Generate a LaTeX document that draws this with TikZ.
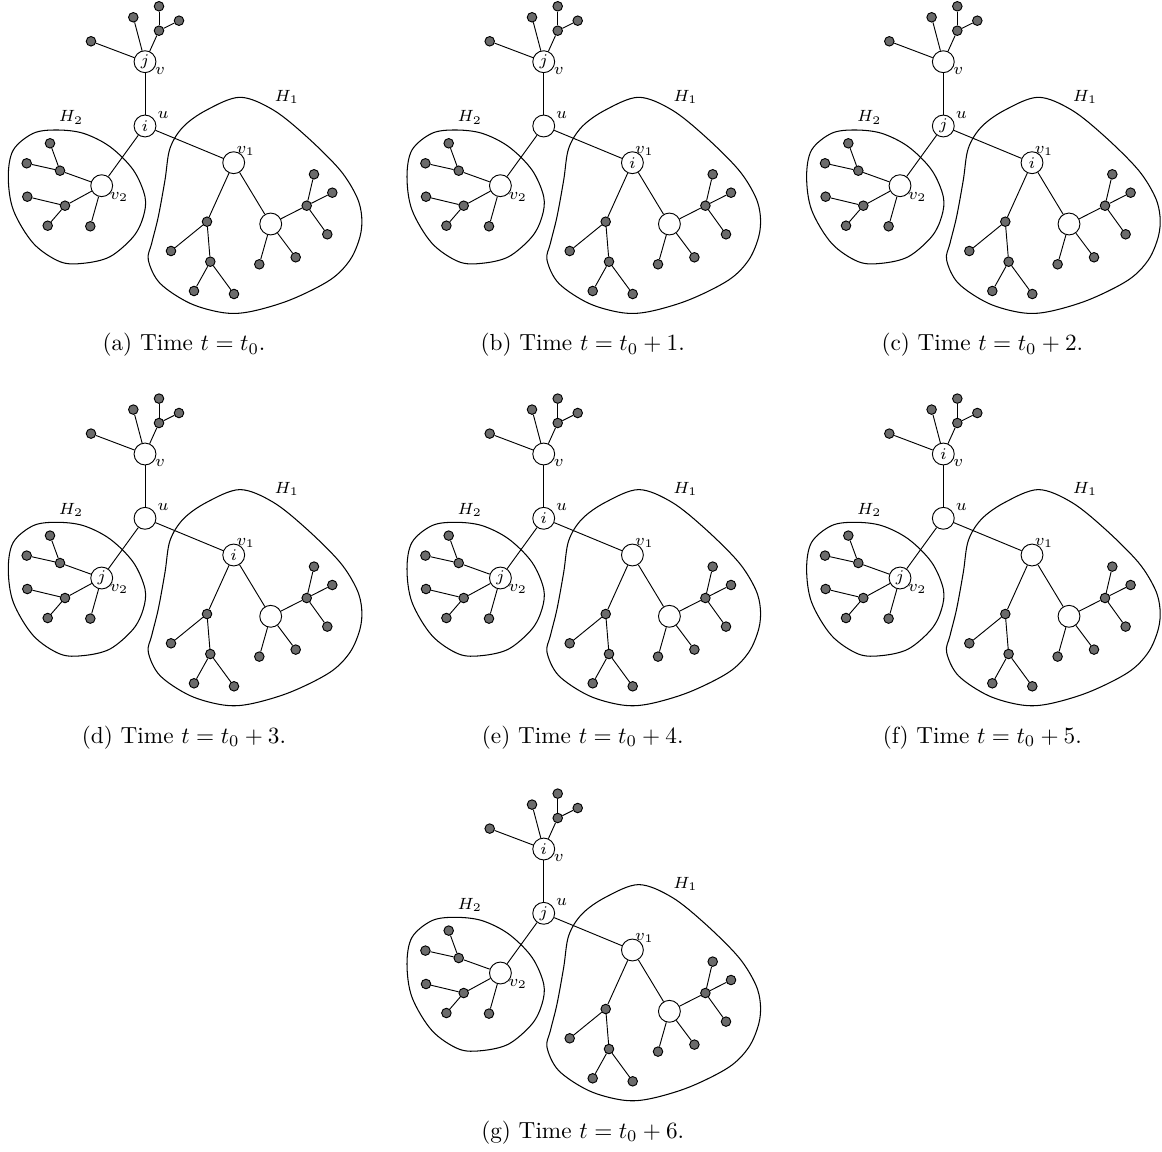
\documentclass[tikz,border=0pt]{standalone}
\tikzset{
  bignode/.style={circle,draw,fill=white,minimum size=9.4pt,inner sep=0pt,font=\scriptsize},
  leaf/.style={circle,draw,fill=black!58,minimum size=4.1pt,inner sep=0pt},
  lab/.style={font=\scriptsize,inner sep=0pt},
  blob/.style={draw,line width=0.45pt},
  captext/.style={font=\normalsize,inner sep=0pt}
}
\newcommand{\mypanel}[8]{%
\begin{scope}[shift={(#2,#3)}]
  \draw[blob] plot[smooth cycle,tension=0.55] coordinates {(240,97.3) (273.3,110) (306.7,136.7) (340,170) (356.7,196.7) (361.7,216.7) (360,236.7) (350,260) (330,280) (290,300) (250,311.7) (223.3,312.7) (190,303.3) (160,283.3) (148.3,260) (151.7,243.3) (158.3,216.7) (165,180) (170,148.3) (183.3,126.7) (206.7,110)};
  \draw[blob] plot[smooth cycle,tension=0.55] coordinates {(56.7,130) (83.3,133.3) (110,146.7) (133.3,170) (145,196.7) (143.3,216.7) (133.3,236.7) (110,256.7) (83.3,263.3) (60,261.7) (33.3,243.3) (13.3,210) (8.3,176.7) (13.3,150) (33.3,133.3)};
  \node[bignode] (#1v) at (145,61.7) {$#4$};
  \node[bignode] (#1u) at (145,126) {$#5$};
  \node[bignode] (#1vo) at (233.7,162.7) {$#6$};
  \node[bignode] (#1vt) at (101.7,185.7) {$#7$};
  \node[bignode] (#1w) at (270.7,224) {};
  \node[leaf] (#1a1) at (91,41.3) {};
  \node[leaf] (#1a2) at (133.3,17.3) {};
  \node[leaf] (#1a3) at (159,30.7) {};
  \node[leaf] (#1a4) at (159,6.3) {};
  \node[leaf] (#1a5) at (179,20.7) {};
  \node[leaf] (#1b1) at (60,170.7) {};
  \node[leaf] (#1b2) at (50,143.3) {};
  \node[leaf] (#1b3) at (26.7,163.3) {};
  \node[leaf] (#1b4) at (65,205.7) {};
  \node[leaf] (#1b5) at (27.3,196.7) {};
  \node[leaf] (#1b6) at (47.7,225.7) {};
  \node[leaf] (#1b7) at (90.3,226.3) {};
  \node[leaf] (#1c1) at (207,221.7) {};
  \node[leaf] (#1c2) at (171,251) {};
  \node[leaf] (#1c3) at (210.3,261.7) {};
  \node[leaf] (#1c4) at (194,291) {};
  \node[leaf] (#1c5) at (234,294) {};
  \node[leaf] (#1d1) at (306.7,205.7) {};
  \node[leaf] (#1d2) at (314,174.3) {};
  \node[leaf] (#1d3) at (332.3,192.7) {};
  \node[leaf] (#1d4) at (327.3,234.3) {};
  \node[leaf] (#1d5) at (259.3,264.3) {};
  \node[leaf] (#1d6) at (295.7,257.3) {};
  \foreach \s/\t in {v/a1,v/a2,v/a3,a3/a4,a3/a5,v/u,u/vo,u/vt,
      vt/b1,b1/b2,b1/b3,vt/b4,b4/b5,b4/b6,vt/b7,
      vo/c1,c1/c2,c1/c3,c3/c4,c3/c5,vo/w,w/d1,d1/d2,d1/d3,d1/d4,w/d5,w/d6}
    \draw (#1\s) -- (#1\t);
  \node[lab] (#1lu) at (163,115) {$u$};
  \node[lab] (#1lv) at (160,71) {$v$};
  \node[lab] (#1lvo) at (245.7,150.7) {$v_1$};
  \node[lab] (#1lvt) at (119,196.7) {$v_2$};
  \node[lab] (#1lh1) at (286.7,96.7) {$H_1$};
  \node[lab] (#1lh2) at (71,117.3) {$H_2$};
  \node[captext] (#1cap) at (184,345) {#8};
\end{scope}}
\begin{document}
\begin{tikzpicture}[x=0.43pt,y=-0.43pt]
  \useasboundingbox (0,0) rectangle (1162,1151);
  \mypanel{pa}{0}{0}{j}{i}{}{}{(a) Time $t=t_0$.}
  \mypanel{pb}{398.7}{0}{j}{}{i}{}{(b) Time $t=t_0+1$.}
  \mypanel{pc}{798.3}{0}{}{j}{i}{}{(c) Time $t=t_0+2$.}
  \mypanel{pd}{0}{392.3}{}{}{i}{j}{(d) Time $t=t_0+3$.}
  \mypanel{pe}{398.7}{392.3}{}{i}{}{j}{(e) Time $t=t_0+4$.}
  \mypanel{pf}{798.3}{392.3}{i}{}{}{j}{(f) Time $t=t_0+5$.}
  \mypanel{pg}{398.7}{787.3}{i}{j}{}{}{(g) Time $t=t_0+6$.}
\end{tikzpicture}
\end{document}
